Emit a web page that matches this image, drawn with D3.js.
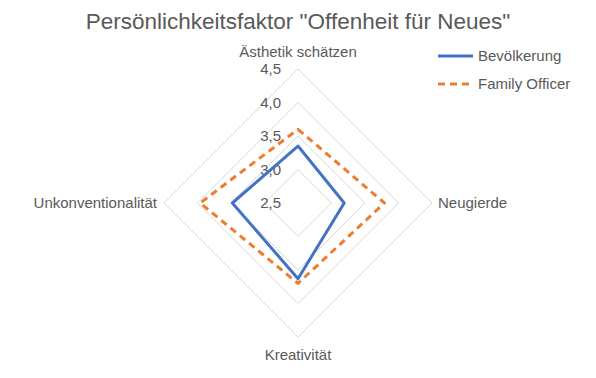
<!DOCTYPE html>
<html>
<head>
<meta charset="utf-8">
<script src="https://cdn.jsdelivr.net/npm/d3@7"></script>
<style>
  body { margin: 0; background: #fff; }
  svg { display: block; font-family: "Liberation Sans", Arial, sans-serif; }
</style>
</head>
<body>
<svg id="chart"></svg>
<script>
var axes = ["Ästhetik schätzen", "Neugierde", "Kreativität", "Unkonventionalität"];
var bevoelkerung = [3.35, 3.19, 3.63, 3.48];
var familyOfficer = [3.60, 3.79, 3.70, 3.96];
var seriesNames = ["Bevölkerung", "Family Officer"];
var ticks = [2.5, 3.0, 3.5, 4.0, 4.5];

var width = 596,
    height = 378;

var cx = 298,
    cy = 203,
    radius = 134;

var svg = d3.select("#chart")
    .attr("width", width)
    .attr("height", height);

var r = d3.scaleLinear()
    .domain([2.5, 4.5])
    .range([0, radius]);

var angle = d3.scaleBand()
    .domain(axes)
    .range([0, 2 * Math.PI])
    .align(0);

function point(name, v) {
    var a = angle(name);
    return [cx + r(v) * Math.sin(a), cy - r(v) * Math.cos(a)];
}

var fmt = function(d) { return d3.format(".1f")(d).replace(".", ","); };

// title
svg.append("text")
    .attr("x", width / 2)
    .attr("y", 29)
    .attr("text-anchor", "middle")
    .attr("fill", "#595959")
    .style("font-size", "22.5px")
    .text('Persönlichkeitsfaktor "Offenheit für Neues"');

// grid rings
var grid = svg.append("g");
grid.selectAll("path.ring")
    .data(ticks.slice(1))
    .enter()
    .append("path")
    .attr("class", "ring")
    .attr("d", function(t) {
        return d3.line()(axes.map(function(a) { return point(a, t); })) + "Z";
    })
    .attr("fill", "none")
    .attr("stroke", "#d9d9d9")
    .attr("stroke-width", 1);

// tick labels
svg.append("g").selectAll("text")
    .data(ticks)
    .enter()
    .append("text")
    .attr("x", cx - 17)
    .attr("y", function(t) { return cy - r(t) + 5; })
    .attr("text-anchor", "end")
    .attr("fill", "#595959")
    .style("font-size", "15px")
    .text(fmt);

// axis labels
var labelPos = [
    { x: cx, y: 57, anchor: "middle" },
    { x: 438, y: 208, anchor: "start" },
    { x: cx, y: 360, anchor: "middle" },
    { x: 157, y: 208, anchor: "end" }
];
svg.append("g").selectAll("text")
    .data(axes)
    .enter()
    .append("text")
    .attr("x", function(d, i) { return labelPos[i].x; })
    .attr("y", function(d, i) { return labelPos[i].y; })
    .attr("text-anchor", function(d, i) { return labelPos[i].anchor; })
    .attr("fill", "#595959")
    .style("font-size", "15px")
    .text(function(d) { return d; });

// series
var series = [
    { name: seriesNames[0], values: bevoelkerung, color: "#4472c4", dash: null },
    { name: seriesNames[1], values: familyOfficer, color: "#ed7d31", dash: "7,5" }
];

svg.append("g").selectAll("path")
    .data(series)
    .enter()
    .append("path")
    .attr("d", function(s) {
        return d3.line()(axes.map(function(a, i) { return point(a, s.values[i]); })) + "Z";
    })
    .attr("fill", "none")
    .attr("stroke", function(s) { return s.color; })
    .attr("stroke-width", 3)
    .attr("stroke-linejoin", "round")
    .attr("stroke-dasharray", function(s) { return s.dash; });

// legend
var legend = svg.append("g").selectAll("g")
    .data(series)
    .enter()
    .append("g")
    .attr("transform", function(s, i) { return "translate(438," + (56 + i * 28) + ")"; });

legend.append("line")
    .attr("x1", 0).attr("x2", 35)
    .attr("stroke", function(s) { return s.color; })
    .attr("stroke-width", 3)
    .attr("stroke-dasharray", function(s) { return s.dash; });

legend.append("text")
    .attr("x", 40)
    .attr("y", 5)
    .attr("fill", "#595959")
    .style("font-size", "15px")
    .text(function(s) { return s.name; });
</script>
</body>
</html>
